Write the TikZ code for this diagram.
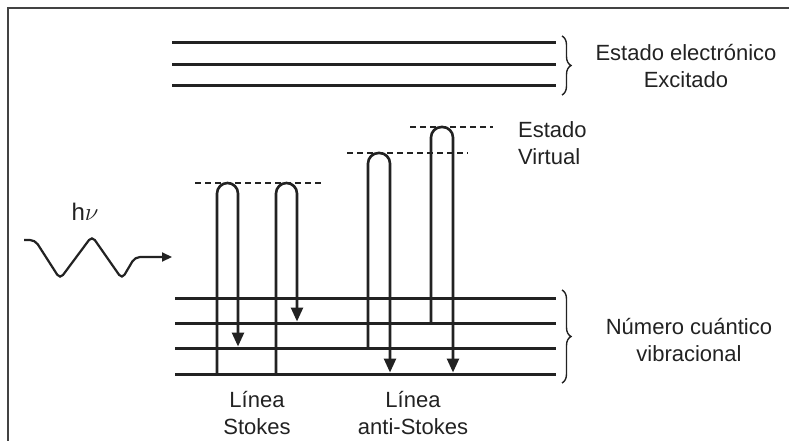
\documentclass[tikz,border=0pt]{standalone}
\usepackage{fontspec}
\setmainfont{Liberation Sans}
\usetikzlibrary{arrows.meta,decorations.pathreplacing}
\definecolor{ink}{HTML}{222222}
\begin{document}
\begin{tikzpicture}[x=1pt,y=-1pt,
  level/.style={line width=3pt,draw=ink},
  loopline/.style={line width=2.6pt,draw=ink,rounded corners=10.5pt},
  virt/.style={line width=1.1pt,draw=ink,dash pattern=on 6pt off 4pt},
  lbl/.style={font=\fontsize{22}{27}\selectfont,text=ink,inner sep=0pt},
  grp/.style={line width=1.4pt,draw=ink,decorate,decoration={brace,amplitude=9pt}},
  tipa/.style={-{Triangle[width=12pt,length=14pt]}}
]
\useasboundingbox (0,0) rectangle (789,441);
\fill[white] (0,0) rectangle (789,441);
% frame
\draw[line width=1.5pt,draw=ink!85] (8,441) -- (8,8) -- (789,8);

% excited electronic levels
\foreach \y [count=\i] in {43,65,86} {
  \coordinate (uL\i) at (172,\y);
  \coordinate (uR\i) at (556,\y);
  \draw[level] (uL\i) -- (uR\i);
}
% vibrational levels
\foreach \y [count=\i] in {298,323,348,374} {
  \coordinate (vL\i) at (175,\y);
  \coordinate (vR\i) at (556,\y);
  \draw[level] (vL\i) -- (vR\i);
}

% braces
\coordinate (bu1) at (562,36);
\coordinate (bu2) at (562,95);
\coordinate (bl1) at (562,290);
\coordinate (bl2) at (562,383);
\draw[grp] (bu1) -- (bu2);
\draw[grp] (bl1) -- (bl2);

% virtual states
\coordinate (d1a) at (195,183); \coordinate (d1b) at (323,183);
\coordinate (d2a) at (347,153); \coordinate (d2b) at (468,153);
\coordinate (d3a) at (410,127); \coordinate (d3b) at (493,127);
\draw[virt] (d1a) -- (d1b);
\draw[virt] (d2a) -- (d2b);
\draw[virt] (d3a) -- (d3b);

% Stokes transitions
\coordinate (s1a) at (217,374); \coordinate (s1b) at (217,183);
\coordinate (s1c) at (238,183); \coordinate (s1d) at (238,346.5);
\draw[loopline,tipa] (s1a) -- (s1b) -- (s1c) -- (s1d);
\coordinate (s2a) at (276,374); \coordinate (s2b) at (276,183);
\coordinate (s2c) at (297,183); \coordinate (s2d) at (297,321.5);
\draw[loopline,tipa] (s2a) -- (s2b) -- (s2c) -- (s2d);

% anti-Stokes transitions
\coordinate (a1a) at (368,348); \coordinate (a1b) at (368,153);
\coordinate (a1c) at (390,153); \coordinate (a1d) at (390,372.5);
\draw[loopline,tipa] (a1a) -- (a1b) -- (a1c) -- (a1d);
\coordinate (a2a) at (431,323); \coordinate (a2b) at (431,127);
\coordinate (a2c) at (453,127); \coordinate (a2d) at (453,372.5);
\draw[loopline,tipa] (a2a) -- (a2b) -- (a2c) -- (a2d);

% incoming photon
\coordinate (w0) at (24,240);
\coordinate (w1) at (35,240);
\coordinate (w2) at (60,279);
\coordinate (w3) at (92,236);
\coordinate (w4) at (122,279);
\coordinate (w5) at (135,257);
\coordinate (w6) at (172,257);
\draw[line width=2.2pt,draw=ink,rounded corners=5pt,-{Triangle[width=9pt,length=10pt]}]
  (w0) -- (w1) -- (w2) -- (w3) -- (w4) -- (w5) -- (w6);
\node[lbl,font=\fontsize{24}{26}\selectfont] (hv) at (85,212) {h$\nu$};

% labels
\node[lbl,align=center] (exc) at (686,66) {Estado electrónico\\Excitado};
\node[lbl,align=center] (vib) at (689,340) {Número cuántico\\vibracional};
\node[lbl,align=left,anchor=west] (virtlbl) at (518,143) {Estado\\Virtual};
\node[lbl,align=center] (stk) at (257,413) {Línea\\Stokes};
\node[lbl,align=center] (astk) at (413,413) {Línea\\anti-Stokes};
\end{tikzpicture}
\end{document}
